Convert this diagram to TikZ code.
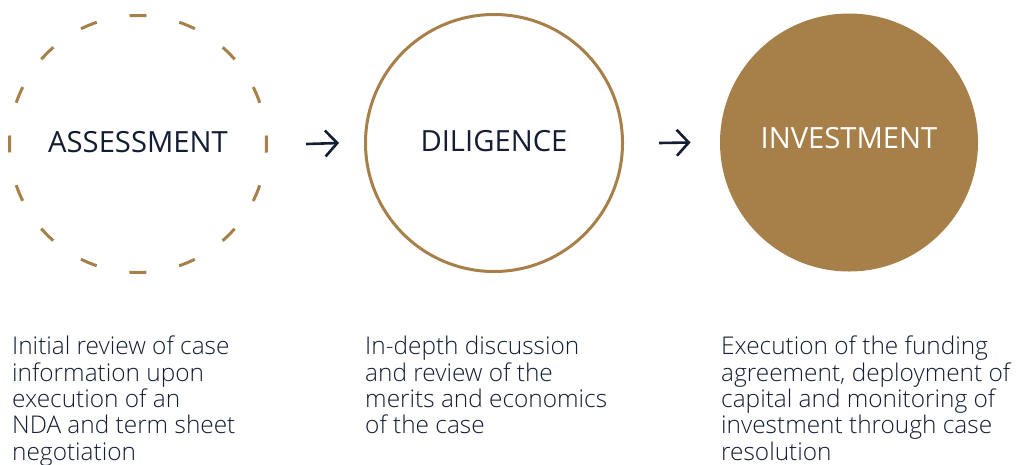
\documentclass[tikz,border=0pt]{standalone}
\usepackage{fontspec}
\setmainfont{Open Sans}
\IfFontExistsTF{Open Sans Light}{\newfontfamily\bodyfont{Open Sans Light}}{\newfontfamily\bodyfont{Open Sans}}
\usepackage{tikz}
\usetikzlibrary{shapes, arrows.meta, positioning}
\definecolor{gold}{RGB}{166,128,72}
\definecolor{navy}{RGB}{20,29,52}
\tikzstyle{stage} = [circle, inner sep = 0pt, minimum size = 257pt, line width = 3pt, text = navy, text depth = 4pt, font = \fontsize{29.2}{31}\selectfont]
\tikzstyle{flow} = [draw, navy, line width = 2.6pt, -{Straight Barb[length=12pt, width=26pt]}]
\tikzstyle{blurb} = [anchor = north west, inner sep = 0pt, align = left, text = navy, font = \bodyfont\fontsize{24.4}{26.3}\selectfont]

\begin{document}
\begin{tikzpicture}[x = 1pt, y = -1pt]
			\useasboundingbox (0, 0) rectangle (1016, 464);
			\node [stage, draw = gold, dash pattern = on 17pt off 33.46pt, dash phase = 8.5pt] (assess) at (138, 144) {ASSESSMENT};
			\node [stage, draw = gold] (dilig) at (494, 143) {DILIGENCE};
			\node [stage, fill = gold, minimum size = 258pt, text = white, text depth = 9pt] (invest) at (849, 142.5) {INVESTMENT};
			
			\path [flow] ([xshift = 38pt] assess.east) -- ([xshift = -25pt] dilig.west);
			\path [flow] ([xshift = 35pt] dilig.east) -- ([xshift = -28pt] invest.west);
			
			\node [blurb] (assesstext) at (12, 336) {Initial review of case\\information upon\\execution of an\\NDA and term sheet\\negotiation};
			\node [blurb] (diligtext) at (365, 336) {In-depth discussion\\and review of the\\merits and economics\\of the case};
			\node [blurb] (investtext) at (721, 336) {Execution of the funding\\agreement, deployment of\\capital and monitoring of\\investment through case\\resolution};
		\end{tikzpicture}
\end{document}
